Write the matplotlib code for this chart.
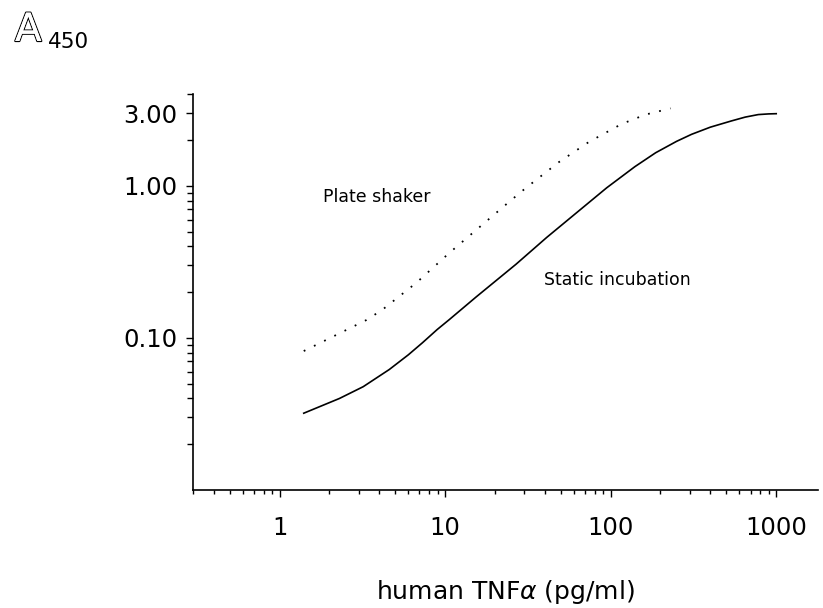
import matplotlib
matplotlib.use("Agg")
import matplotlib.pyplot as plt
import matplotlib.patheffects as pe
from matplotlib.ticker import FixedLocator, LogLocator, NullFormatter, FixedFormatter

# values
static_conc = [1.4, 2.3, 3.2, 4.6, 6.0, 7.3, 8.95, 10.6, 15.4, 26.8, 33.4, 41.1,
               94.6, 140, 187, 250, 308, 400, 536, 650, 779, 900, 1000]
static_a450 = [0.032, 0.040, 0.0478, 0.062, 0.0775, 0.093, 0.1135, 0.132, 0.186, 0.305, 0.376, 0.458,
               0.97, 1.336, 1.65, 1.96, 2.18, 2.43, 2.67, 2.83, 2.94, 2.97, 2.98]

shaker_conc = [1.4, 2.75, 3.34, 4.17, 6.69, 10.6, 16.0, 21.1, 24.3, 30.8,
               48.6, 73.7, 116.5, 162.5, 230]
shaker_a450 = [0.082, 0.118, 0.131, 0.153, 0.230, 0.362, 0.531, 0.687, 0.783, 0.97,
               1.43, 1.94, 2.55, 2.94, 3.23]

y_ticks = [0.1, 1.0, 3.0]
y_labels = ["0.10", "1.00", "3.00"]
x_ticks = [1, 10, 100, 1000]
x_labels = ["1", "10", "100", "1000"]

plt.rcParams['font.family'] = ['DejaVu Sans']

fig = plt.figure(figsize=(8.23, 6.08), dpi=100)
ax = fig.add_axes([0.2345, 0.194, 0.76, 0.651])

ax.plot(static_conc, static_a450, color='black', lw=1.2, linestyle='-')
ax.plot(shaker_conc, shaker_a450, color='black', lw=1.3, linestyle=(0, (1, 5.3)))

ax.set_xscale('log')
ax.set_yscale('log')
ax.set_xlim(0.3, 1800)
ax.set_ylim(0.01, 4.0)

for side in ['top', 'right']:
    ax.spines[side].set_visible(False)
for side in ['left', 'bottom']:
    ax.spines[side].set_linewidth(1.2)

ax.yaxis.set_major_locator(FixedLocator(y_ticks))
ax.yaxis.set_major_formatter(FixedFormatter(y_labels))
ax.yaxis.set_minor_locator(LogLocator(base=10, subs=[2, 3, 4, 5, 6, 7, 8, 9], numticks=20))
ax.yaxis.set_minor_formatter(NullFormatter())

ax.xaxis.set_major_locator(FixedLocator(x_ticks))
ax.xaxis.set_major_formatter(FixedFormatter(x_labels))
ax.xaxis.set_minor_locator(LogLocator(base=10, subs=[2, 3, 4, 5, 6, 7, 8, 9], numticks=20))
ax.xaxis.set_minor_formatter(NullFormatter())

ax.tick_params(axis='y', which='major', direction='out', length=5, width=1, labelsize=17.5, pad=6)
ax.tick_params(axis='y', which='minor', direction='out', length=4, width=1)
ax.tick_params(axis='x', which='major', direction='out', length=5, width=1, labelsize=17.5, pad=14)
ax.tick_params(axis='x', which='minor', direction='out', length=3.2, width=1)

ax.set_xlabel(r"human TNF$\alpha$ (pg/ml)", fontsize=18, labelpad=27)

ax.text(1.82, 0.847, "Plate shaker", fontsize=12.5, ha='left', va='center')
ax.text(39.5, 0.241, "Static incubation", fontsize=12.5, ha='left', va='center')

# hollow "A" of the A450 axis title
fig.text(15 / 823, 1 - 41 / 608, "A", fontsize=28, color='white', ha='left', va='baseline',
         path_effects=[pe.withStroke(linewidth=1.6, foreground='black'), pe.Normal()])
fig.text(48 / 823, 1 - 48 / 608, "450", fontsize=15.5, ha='left', va='baseline')

fig.savefig("out.png", dpi=100)
